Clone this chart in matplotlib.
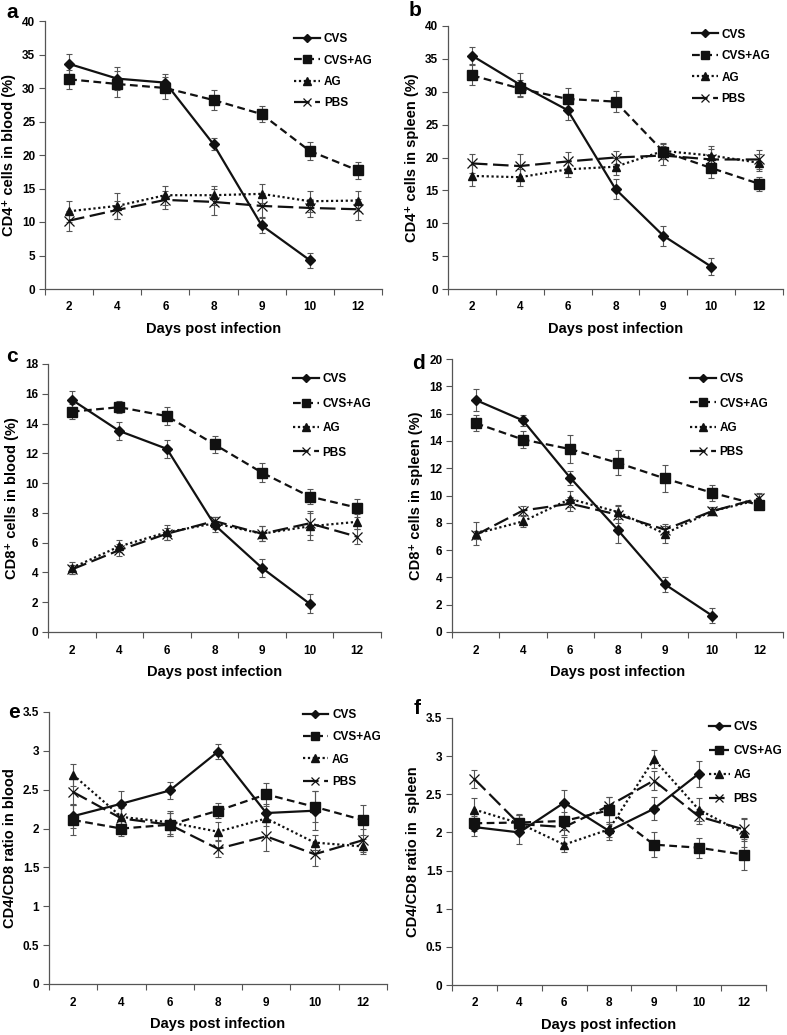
"""CD4/CD8 time courses after infection, six panels (a-f)."""
import matplotlib

matplotlib.use("Agg")
import matplotlib.pyplot as plt
import numpy as np

days = ["2", "4", "6", "8", "9", "10", "12"]
groups = ["CVS", "CVS+AG", "AG", "PBS"]

# panel a: CD4+ in blood
a_cvs = [33.6, 31.4, 30.8, 21.6, 9.5, 4.3]
a_cvs_err = [1.5, 1.7, 1.3, 0.9, 1.1, 1.1]
a_cvsag = [31.3, 30.6, 30.0, 28.2, 26.1, 20.6, 17.7]
a_cvsag_err = [1.4, 2.0, 1.6, 1.5, 1.2, 1.3, 1.3]
a_ag = [11.6, 12.4, 14.0, 14.0, 14.2, 13.1, 13.2]
a_ag_err = [1.6, 1.9, 1.4, 1.4, 1.4, 1.6, 1.5]
a_pbs = [10.2, 11.8, 13.3, 13.0, 12.4, 12.1, 11.9]
a_pbs_err = [1.5, 1.4, 1.4, 1.9, 1.6, 1.4, 1.6]

# panel b: CD4+ in spleen
b_cvs = [35.5, 31.1, 27.2, 15.2, 8.1, 3.4]
b_cvs_err = [1.3, 1.7, 1.5, 1.5, 1.5, 1.3]
b_cvsag = [32.5, 30.5, 28.9, 28.5, 20.9, 18.4, 16.0]
b_cvsag_err = [1.5, 1.3, 1.7, 1.6, 1.2, 1.5, 1.1]
b_ag = [17.2, 17.0, 18.2, 18.6, 21.0, 20.3, 19.2]
b_ag_err = [1.6, 1.3, 1.2, 1.3, 1.2, 1.4, 1.3]
b_pbs = [19.1, 18.7, 19.4, 20.0, 20.3, 19.7, 19.7]
b_pbs_err = [1.4, 1.9, 1.5, 1.0, 1.5, 1.6, 1.5]

# panel c: CD8+ in blood
c_cvs = [15.6, 13.5, 12.3, 7.2, 4.3, 1.9]
c_cvs_err = [0.6, 0.6, 0.6, 0.5, 0.6, 0.65]
c_cvsag = [14.8, 15.1, 14.5, 12.6, 10.7, 9.1, 8.35]
c_cvsag_err = [0.5, 0.4, 0.6, 0.55, 0.65, 0.5, 0.6]
c_ag = [4.3, 5.75, 6.7, 7.3, 6.6, 7.1, 7.4]
c_ag_err = [0.4, 0.4, 0.5, 0.4, 0.5, 0.9, 0.5]
c_pbs = [4.2, 5.5, 6.6, 7.45, 6.6, 7.3, 6.4]
c_pbs_err = [0.3, 0.4, 0.4, 0.3, 0.5, 0.8, 0.5]

# panel d: CD8+ in spleen
d_cvs = [17.0, 15.5, 11.3, 7.5, 3.5, 1.2]
d_cvs_err = [0.8, 0.4, 0.5, 1.0, 0.55, 0.55]
d_cvsag = [15.3, 14.1, 13.4, 12.4, 11.25, 10.2, 9.3]
d_cvsag_err = [0.6, 0.6, 1.0, 0.9, 1.0, 0.6, 0.3]
d_ag = [7.2, 8.1, 9.75, 8.8, 7.2, 8.85, 9.7]
d_ag_err = [0.85, 0.4, 0.6, 0.5, 0.7, 0.3, 0.4]
d_pbs = [7.1, 8.9, 9.4, 8.6, 7.5, 8.85, 9.8]
d_pbs_err = [0.3, 0.3, 0.5, 0.6, 0.3, 0.3, 0.4]

# panel e: CD4/CD8 ratio in blood
e_cvs = [2.16, 2.32, 2.49, 2.99, 2.20, 2.23]
e_cvs_err = [0.15, 0.16, 0.11, 0.10, 0.12, 0.25]
e_cvsag = [2.11, 2.00, 2.05, 2.23, 2.44, 2.28, 2.11]
e_cvsag_err = [0.19, 0.10, 0.15, 0.10, 0.15, 0.20, 0.19]
e_ag = [2.69, 2.15, 2.08, 1.96, 2.13, 1.82, 1.77]
e_ag_err = [0.14, 0.12, 0.15, 0.12, 0.10, 0.10, 0.10]
e_pbs = [2.47, 2.13, 2.05, 1.74, 1.90, 1.67, 1.85]
e_pbs_err = [0.17, 0.15, 0.15, 0.11, 0.19, 0.15, 0.15]

# panel f: CD4/CD8 ratio in spleen
f_cvs = [2.07, 2.00, 2.39, 2.02, 2.31, 2.77]
f_cvs_err = [0.12, 0.15, 0.17, 0.12, 0.15, 0.17]
f_cvsag = [2.12, 2.13, 2.15, 2.29, 1.84, 1.80, 1.71]
f_cvsag_err = [0.10, 0.10, 0.12, 0.18, 0.16, 0.13, 0.20]
f_ag = [2.30, 2.12, 1.84, 2.04, 2.96, 2.30, 1.99]
f_ag_err = [0.15, 0.12, 0.10, 0.10, 0.12, 0.15, 0.18]
f_pbs = [2.70, 2.11, 2.07, 2.35, 2.68, 2.21, 2.04]
f_pbs_err = [0.12, 0.12, 0.10, 0.12, 0.12, 0.10, 0.15]

BLACK = "#111111"
styles = {
    "CVS": dict(marker="D", ms=4.8, ls="-", lw=1.6),
    "CVS+AG": dict(marker="s", ms=7.5, ls=(0, (3.5, 2.0)), lw=1.6),
    "AG": dict(marker="^", ms=6, ls=(0, (1.0, 1.2)), lw=1.6),
    "PBS": dict(marker="x", ms=6.5, ls=(0, (7, 2.5)), lw=1.6, mew=0.9),
}


def panel(fig, rect_px, letter, letter_px, ylabel, ymax, ystep, series,
          leg_xy, leg_spacing, handlelen=2.2):
    W, H = 787, 1035
    left, right, top, bottom = rect_px
    ax = fig.add_axes([left / W, 1 - bottom / H, (right - left) / W, (bottom - top) / H])
    x = np.arange(len(days))
    for name, (vals, errs) in zip(groups, series):
        xx = x[: len(vals)]
        ax.errorbar(xx, vals, yerr=errs, fmt="none", ecolor="#555555",
                    elinewidth=0.8, capsize=2.5, capthick=0.8, zorder=2)
        ax.plot(xx, vals, color=BLACK, mfc=BLACK, mec=BLACK, label=name,
                zorder=3, **styles[name])
    ax.set_xlim(-0.5, len(days) - 0.5)
    ax.set_ylim(0, ymax)
    ax.set_xticks(x)
    ax.set_xticklabels(days, fontweight="bold", fontsize=8.5)
    ax.set_xticks(np.arange(-0.5, len(days)), minor=True)
    ax.tick_params(axis="x", which="major", length=0, pad=9)
    ax.tick_params(axis="x", which="minor", length=4, width=0.8, color="#555555")
    yt = np.arange(0, ymax + ystep / 2, ystep)
    ax.set_yticks(yt)
    ax.set_yticklabels([f"{v:g}" for v in yt], fontweight="bold", fontsize=8.5)
    ax.tick_params(axis="y", length=4, width=0.8, color="#555555", pad=3)
    for s in ("top", "right"):
        ax.spines[s].set_visible(False)
    for s in ("left", "bottom"):
        ax.spines[s].set_color("#555555")
        ax.spines[s].set_linewidth(0.9)
    ax.set_xlabel("Days post infection", fontweight="bold", fontsize=10.5, labelpad=6)
    ax.set_ylabel(ylabel, fontweight="bold", fontsize=10.5, labelpad=4)
    leg = ax.legend(loc="upper left", bbox_to_anchor=leg_xy, frameon=False,
                    fontsize=8.5, handlelength=handlelen, handletextpad=0.3,
                    labelspacing=leg_spacing, borderpad=0, borderaxespad=0,
                    numpoints=1, markerscale=0.85)
    for t in leg.get_texts():
        t.set_fontweight("bold")
    fig.text(letter_px[0] / W, 1 - letter_px[1] / H, letter, fontsize=15,
             fontweight="bold", ha="left", va="center")
    return ax


plt.rcParams["font.family"] = ["Liberation Sans", "DejaVu Sans"]
fig = plt.figure(figsize=(7.87, 10.35), dpi=100)

panel(fig, (45, 382, 21, 289), "a", (6, 12), "CD4\u207a cells in blood (%)", 40, 5,
      [(a_cvs, a_cvs_err), (a_cvsag, a_cvsag_err), (a_ag, a_ag_err), (a_pbs, a_pbs_err)],
      (0.74, 0.955), 0.8)
panel(fig, (448, 783, 26, 289), "b", (409, 11), "CD4\u207a cells in spleen (%)", 40, 5,
      [(b_cvs, b_cvs_err), (b_cvsag, b_cvsag_err), (b_ag, b_ag_err), (b_pbs, b_pbs_err)],
      (0.728, 0.99), 0.8)
panel(fig, (48, 381, 364, 632), "c", (6, 356), "CD8\u207a cells in blood (%)", 18, 2,
      [(c_cvs, c_cvs_err), (c_cvsag, c_cvsag_err), (c_ag, c_ag_err), (c_pbs, c_pbs_err)],
      (0.736, 0.965), 1.05)
panel(fig, (452, 783, 359, 632), "d", (412, 364), "CD8\u207a cells in spleen (%)", 20, 2,
      [(d_cvs, d_cvs_err), (d_cvsag, d_cvsag_err), (d_ag, d_ag_err), (d_pbs, d_pbs_err)],
      (0.719, 0.948), 1.05)
panel(fig, (49, 387, 712, 984), "e", (8, 713), "CD4/CD8 ratio in blood", 3.5, 0.5,
      [(e_cvs, e_cvs_err), (e_cvsag, e_cvsag_err), (e_ag, e_ag_err), (e_pbs, e_pbs_err)],
      (0.75, 1.012), 0.88)
panel(fig, (452, 766, 718, 985), "f", (414, 709), "CD4/CD8 ratio in  spleen", 3.5, 0.5,
      [(f_cvs, f_cvs_err), (f_cvsag, f_cvsag_err), (f_ag, f_ag_err), (f_pbs, f_pbs_err)],
      (0.818, 0.99), 1.03, handlelen=1.8)

fig.savefig("out.png", dpi=100)
